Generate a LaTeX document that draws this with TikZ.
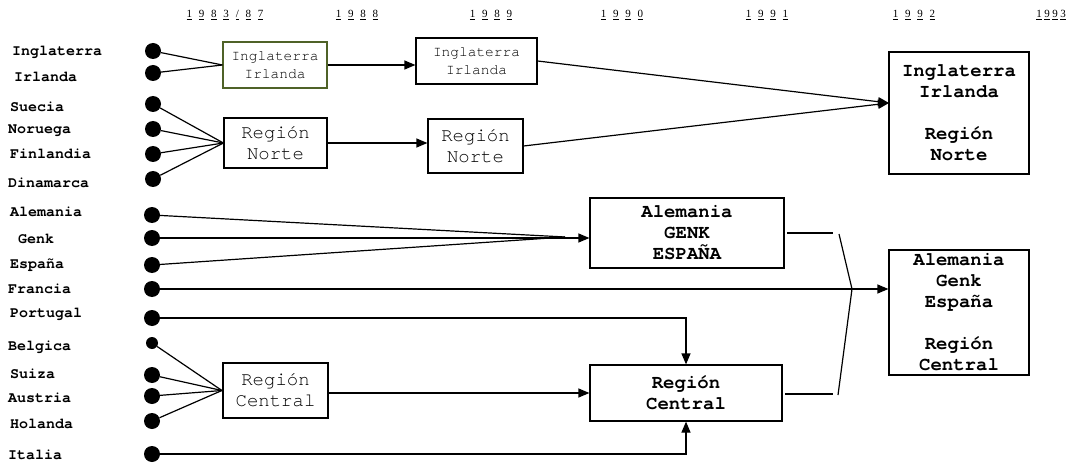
\documentclass[tikz,border=0pt]{standalone}
\usepackage{fontspec}
\setmainfont{Liberation Serif}
\newfontfamily\cour{TeX Gyre Cursor}
\usetikzlibrary{arrows.meta}
% underlined digit of a year heading
\newcommand\ud[1]{\underline{#1}}
\newcommand\gp{\hspace{6.8pt}}
\begin{document}
\begin{tikzpicture}[x=1pt,y=-1pt,
  lbl/.style={anchor=west,font=\cour\bfseries\fontsize{15}{15}\selectfont,inner sep=0},
  dot/.style={circle,fill=black,inner sep=0,minimum size=16pt},
  smalldot/.style={circle,fill=black,inner sep=0,minimum size=12pt},
  box/.style={draw,line width=1.2pt,inner sep=0,align=center},
  thin/.style={font=\cour\fontsize{14.5}{17.5}\selectfont},
  plain/.style={font=\cour\fontsize{19}{21}\selectfont},
  heavy/.style={font=\cour\bfseries\fontsize{19}{21}\selectfont},
  yr/.style={font=\fontsize{11}{11}\selectfont,inner sep=0},
  ln/.style={line width=1.2pt},
  arr/.style={line width=1.2pt,-{Triangle[length=11pt,width=9pt]}}]
\useasboundingbox (0,0) rectangle (1070,465);

% year headings
\node[yr] (y1) at (225,15) {\ud1\gp\ud9\gp\ud8\gp\ud3\gp\ud/\gp\ud8\gp\ud7};
\node[yr] (y2) at (357,15) {\ud1\gp\ud9\gp\ud8\gp\ud8};
\node[yr] (y3) at (491,15) {\ud1\gp\ud9\gp\ud8\gp\ud9};
\node[yr] (y4) at (622,15) {\ud1\gp\ud9\gp\ud9\gp\ud0};
\node[yr] (y5) at (767,15) {\ud1\gp\ud9\gp\ud9\gp\ud1};
\node[yr] (y6) at (914,15) {\ud1\gp\ud9\gp\ud9\gp\ud2};
\node[yr] (y7) at (1051,15) {\ud1\hspace{2.5pt}\ud9\hspace{2.5pt}\ud9\hspace{2.5pt}\ud3};

% country labels
\node[lbl] (lIng) at (12,52) {Inglaterra};
\node[lbl] (lIrl) at (14,77) {Irlanda};
\node[lbl] (lSue) at (10,107) {Suecia};
\node[lbl] (lNor) at (8,131) {Noruega};
\node[lbl] (lFin) at (10,154) {Finlandia};
\node[lbl] (lDin) at (8,183) {Dinamarca};
\node[lbl] (lAle) at (10,212) {Alemania};
\node[lbl] (lGen) at (18,239) {Genk};
\node[lbl] (lEsp) at (10,265) {España};
\node[lbl] (lFra) at (8,289) {Francia};
\node[lbl] (lPor) at (10,314) {Portugal};
\node[lbl] (lBel) at (8,347) {Belgica};
\node[lbl] (lSui) at (10,374) {Suiza};
\node[lbl] (lAus) at (8,398) {Austria};
\node[lbl] (lHol) at (10,424) {Holanda};
\node[lbl] (lIta) at (8,455) {Italia};

% dots
\node[dot] (dIng) at (153,51) {};
\node[dot] (dIrl) at (153,73) {};
\node[dot] (dSue) at (153,104) {};
\node[dot] (dNor) at (153,129) {};
\node[dot] (dFin) at (153,154) {};
\node[dot] (dDin) at (153,179) {};
\node[dot] (dAle) at (152,215) {};
\node[dot] (dGen) at (152,238) {};
\node[dot] (dEsp) at (152,265) {};
\node[dot] (dFra) at (152,289) {};
\node[dot] (dPor) at (152,318) {};
\node[smalldot] (dBel) at (152,343) {};
\node[dot] (dSui) at (152,375) {};
\node[dot] (dAus) at (152,396) {};
\node[dot] (dHol) at (152,421) {};
\node[dot] (dIta) at (152,454) {};

% boxes
\node[box,thin,draw={rgb,255:red,79;green,98;blue,40},minimum width=104pt,minimum height=46pt] (b1) at (275,65) {Inglaterra\\Irlanda};
\node[box,plain,minimum width=103pt,minimum height=50pt] (b2) at (275.5,143) {Región\\Norte};
\node[box,thin,minimum width=121pt,minimum height=46pt] (b3) at (476.5,61) {Inglaterra\\Irlanda};
\node[box,plain,minimum width=95pt,minimum height=54pt] (b4) at (475.5,146) {Región\\Norte};
\node[box,heavy,minimum width=140pt,minimum height=122pt] (big1) at (959,113) {Inglaterra\\Irlanda\\[21pt]Región\\Norte};
\node[box,heavy,minimum width=194pt,minimum height=70pt] (b5) at (687,233) {Alemania\\GENK\\ESPAÑA};
\node[box,heavy,minimum width=140pt,minimum height=125pt] (big2) at (959,312.5) {Alemania\\Genk\\España\\[21pt]Región\\Central};
\node[box,heavy,minimum width=192pt,minimum height=56pt] (b6) at (686,393) {Región\\Central};
\node[box,plain,line width=2.2pt,minimum width=105pt,minimum height=55pt] (b7) at (275.5,390.5) {Región\\Central};

% fan-in lines
\foreach \d in {dIng,dIrl} \draw[ln] (\d) -- (b1.west);
\foreach \d in {dSue,dNor,dFin,dDin} \draw[ln] (\d) -- (b2.west);
\foreach \d in {dBel,dSui,dAus,dHol} \draw[ln] (\d) -- (b7.west);

% arrows of the upper block
\draw[arr] (b1.east) -- (b3.west |- b1.east);
\draw[arr] (b2.east) -- (b4.west |- b2.east);
\coordinate (m1) at (889,103);
\draw[arr] (b3.east) -- (m1);
\draw[arr] (b4.east) -- (m1);

% Alemania / Genk / España into one box
\coordinate (cv5) at (565,237);
\draw[ln] (dAle) -- (cv5);
\draw[ln] (dEsp) -- (cv5);
\draw[arr] (dGen) -- (b5.west |- dGen);

% Francia straight to the final box
\draw[arr] (dFra) -- (big2.west |- dFra);

% Portugal and Italia into the central box
\draw[arr] (dPor) -| (b6.north);
\draw[arr] (dIta) -| (b6.south);
\draw[arr] (b7.east |- b6.west) -- (b6.west);

% merging bracket
\coordinate (h1s) at (787,233);
\coordinate (h1e) at (833,233);
\coordinate (h2s) at (785,394);
\coordinate (h2e) at (833,394);
\coordinate (brT) at (839,234);
\coordinate (brM) at (852,289);
\coordinate (brB) at (838,395);
\draw[ln] (h1s) -- (h1e);
\draw[ln] (h2s) -- (h2e);
\draw[ln] (brT) -- (brM) -- (brB);
\end{tikzpicture}
\end{document}
